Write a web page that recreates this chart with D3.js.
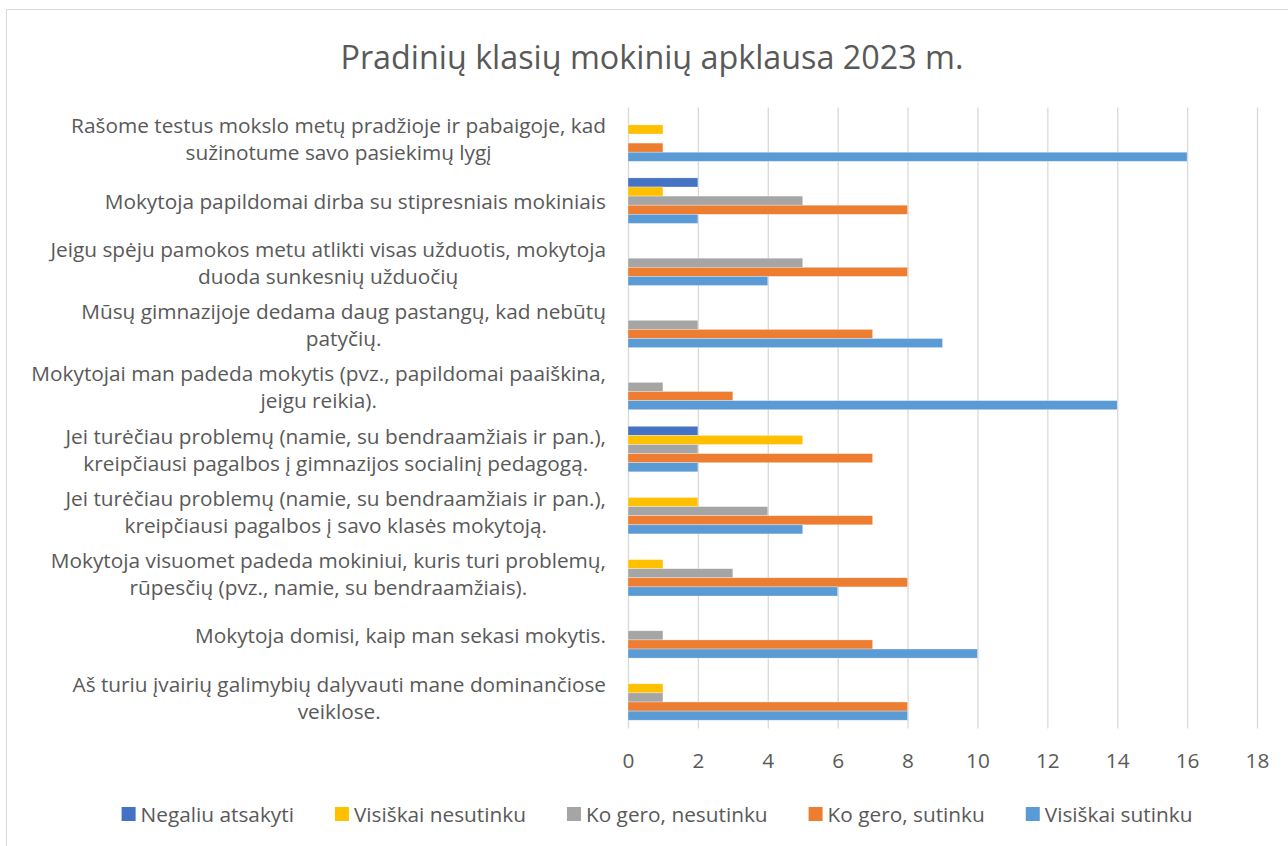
<!DOCTYPE html>
<html>
<head>
<meta charset="utf-8">
<script src="https://cdn.jsdelivr.net/npm/d3@7"></script>
<style>
  body { margin: 0; background: #fff; }
  svg { display: block; }
  text { font-family: "Open Sans", "Noto Sans", sans-serif; fill: #595959; }
</style>
</head>
<body>
<svg id="chart"></svg>
<script>
// chart data
const title = "Pradinių klasių mokinių apklausa 2023 m.";

const categories = [
    "Rašome testus mokslo metų pradžioje ir pabaigoje, kad\nsužinotume savo pasiekimų lygį",
    "Mokytoja papildomai dirba su stipresniais mokiniais",
    "Jeigu spėju pamokos metu atlikti visas užduotis, mokytoja\nduoda sunkesnių užduočių",
    "Mūsų gimnazijoje dedama daug pastangų, kad nebūtų\npatyčių.",
    "Mokytojai man padeda mokytis (pvz., papildomai paaiškina,\njeigu reikia).",
    "Jei turėčiau problemų (namie, su bendraamžiais ir pan.),\nkreipčiausi pagalbos į gimnazijos socialinį pedagogą.",
    "Jei turėčiau problemų (namie, su bendraamžiais ir pan.),\nkreipčiausi pagalbos į savo klasės mokytoją.",
    "Mokytoja visuomet padeda mokiniui, kuris turi problemų,\nrūpesčių (pvz., namie, su bendraamžiais).",
    "Mokytoja domisi, kaip man sekasi mokytis.",
    "Aš turiu įvairių galimybių dalyvauti mane dominančiose\nveiklose."
];

const seriesNames = ["Negaliu atsakyti", "Visiškai nesutinku", "Ko gero, nesutinku", "Ko gero, sutinku", "Visiškai sutinku"];
const seriesColors = ["#4472C4", "#FFC000", "#A5A5A5", "#ED7D31", "#5B9BD5"];

const negaliuAtsakyti   = [0, 2, 0, 0, 0, 2, 0, 0, 0, 0];
const visiskaiNesutinku = [1, 1, 0, 0, 0, 5, 2, 1, 0, 1];
const koGeroNesutinku   = [0, 5, 5, 2, 1, 2, 4, 3, 1, 1];
const koGeroSutinku     = [1, 8, 8, 7, 3, 7, 7, 8, 7, 8];
const visiskaiSutinku   = [16, 2, 4, 9, 14, 2, 5, 6, 10, 8];

const xTicks = [0, 2, 4, 6, 8, 10, 12, 14, 16, 18];

const seriesValues = [negaliuAtsakyti, visiskaiNesutinku, koGeroNesutinku, koGeroSutinku, visiskaiSutinku];

// build rows for the bars
const data = categories.map((c, i) => ({
    category: c,
    values: seriesNames.map((s, j) => ({series: s, value: seriesValues[j][i], color: seriesColors[j]}))
}));

const W = 1288, H = 846;
const plot = {left: 628, right: 1257, top: 107.5, bottom: 728.5};
const fontSize = 20.8;

const svg = d3.select("#chart").attr("width", W).attr("height", H);

//chart frame
svg.append("rect")
    .attr("x", 6.5).attr("y", 9.5)
    .attr("width", W + 10).attr("height", H + 10)
    .attr("fill", "#fff")
    .attr("stroke", "#D9D9D9")
    .attr("stroke-width", 1);

svg.append("text")
    .attr("x", 652).attr("y", 56)
    .attr("text-anchor", "middle")
    .attr("dominant-baseline", "central")
    .style("font-size", "32.3px")
    .text(title);

const xScale = d3.scaleLinear().domain([0, 18]).range([plot.left, plot.right]);

const yScale = d3.scaleBand()
    .domain(categories)
    .range([plot.top, plot.bottom])
    .paddingInner(0.267)
    .paddingOuter(0.1335);

const yInner = d3.scaleBand()
    .domain(seriesNames)
    .range([0, yScale.bandwidth()]);

//vertical grid lines
svg.append("g")
    .selectAll("line")
    .data(xTicks)
    .join("line")
    .attr("x1", d => xScale(d) + 0.5)
    .attr("x2", d => xScale(d) + 0.5)
    .attr("y1", plot.top)
    .attr("y2", plot.bottom)
    .attr("stroke", "#D9D9D9")
    .attr("stroke-width", 1.3);

//x axis labels
const xAxis = d3.axisBottom(xScale).tickValues(xTicks).tickSize(0).tickPadding(0);
const xg = svg.append("g")
    .attr("transform", "translate(0," + (plot.bottom + 25) + ")")
    .call(xAxis);
xg.select(".domain").remove();
xg.selectAll("text")
    .style("font-size", fontSize + "px")
    .style("font-family", "\"Open Sans\", sans-serif")
    .attr("fill", "#595959");

//bars
const groups = svg.append("g")
    .selectAll("g")
    .data(data)
    .join("g")
    .attr("transform", d => "translate(0," + yScale(d.category) + ")");

groups.selectAll("rect")
    .data(d => d.values.filter(v => v.value > 0))
    .join("rect")
    .attr("x", xScale(0))
    .attr("y", d => yInner(d.series))
    .attr("width", d => xScale(d.value) - xScale(0))
    .attr("height", yInner.bandwidth())
    .attr("fill", d => d.color)
    .attr("stroke", "#fff")
    .attr("stroke-opacity", 0.5)
    .attr("stroke-width", 0.6);

//category labels, lines centred inside a block that is right aligned
const labelRight = 606;
const lineH = 27;
const labels = svg.append("g")
    .selectAll("text")
    .data(categories)
    .join("text")
    .style("font-size", fontSize + "px")
    .attr("text-anchor", "middle");

labels.each(function (c) {
    const lines = c.split("\n");
    const t = d3.select(this);
    const cy = yScale(c) + yScale.bandwidth() / 2;
    lines.forEach((l, i) => {
        t.append("tspan")
            .attr("y", cy + (i - (lines.length - 1) / 2) * lineH)
            .attr("dominant-baseline", "central")
            .text(l);
    });
    let maxW = 0;
    t.selectAll("tspan").each(function () {
        maxW = Math.max(maxW, this.getComputedTextLength());
    });
    t.selectAll("tspan").attr("x", labelRight - maxW / 2);
});

//legend
const legend = svg.append("g");
const items = legend.selectAll("g")
    .data(seriesNames)
    .join("g");
items.append("rect")
    .attr("width", 14).attr("height", 14)
    .attr("y", -7)
    .attr("fill", (d, i) => seriesColors[i]);
items.append("text")
    .attr("x", 19)
    .attr("dominant-baseline", "central")
    .style("font-size", fontSize + "px")
    .text(d => d);

let widths = [];
items.each(function () { widths.push(this.getBBox().width); });
const gap = 41;
const total = d3.sum(widths) + gap * (widths.length - 1);
let lx = 657 - total / 2;
items.attr("transform", (d, i) => {
    const tr = "translate(" + lx + ",814)";
    lx += widths[i] + gap;
    return tr;
});
</script>
</body>
</html>
